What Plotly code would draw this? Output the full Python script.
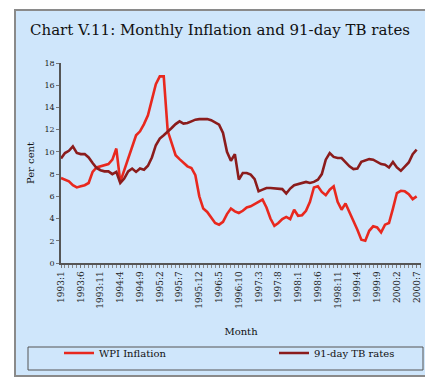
import plotly.graph_objects as go

# Monthly categories 1993:1 .. 2000:7
years = list(range(1993, 2001))
months = [f"{y}:{m}" for y in years for m in range(1, 13)][:91]

wpi_inflation = [7.65, 7.5, 7.35, 7.0, 6.8, 6.9, 7.0, 7.2, 8.2, 8.6,
                 8.7, 8.8, 8.9, 9.3, 10.3, 7.3, 8.3, 9.3, 10.4, 11.5,
                 11.85, 12.5, 13.3, 14.6, 16.1, 16.8, 16.8, 11.9, 10.8, 9.7,
                 9.35, 9.0, 8.7, 8.55, 7.9, 6.0, 4.9, 4.6, 4.1, 3.6,
                 3.45, 3.7, 4.4, 4.9, 4.65, 4.5, 4.7, 5.0, 5.1, 5.3,
                 5.55, 5.7, 5.0, 4.0, 3.35, 3.6, 3.95, 4.15, 3.95, 4.8,
                 4.25, 4.3, 4.7, 5.5, 6.8, 6.9, 6.4, 6.1, 6.6, 6.9,
                 5.5, 4.8, 5.35, 4.6, 3.7, 3.0, 2.1, 2.0, 2.9, 3.3,
                 3.2, 2.75, 3.45, 3.6, 4.9, 6.3, 6.5, 6.45, 6.2, 5.75,
                 6.0]

tb_rate = [9.4, 9.9, 10.1, 10.5, 9.9, 9.8, 9.8, 9.5, 9.0, 8.55,
           8.35, 8.25, 8.25, 8.0, 8.2, 7.2, 7.6, 8.25, 8.5, 8.2,
           8.5, 8.4, 8.75, 9.5, 10.6, 11.2, 11.5, 11.8, 12.15, 12.5,
           12.75, 12.55, 12.6, 12.75, 12.9, 12.95, 12.95, 12.95, 12.85, 12.65,
           12.45, 11.7, 10.0, 9.2, 9.8, 7.5, 8.1, 8.1, 7.95, 7.55,
           6.45, 6.6, 6.75, 6.75, 6.7, 6.7, 6.65, 6.25, 6.7, 7.0,
           7.1, 7.2, 7.3, 7.2, 7.3, 7.5, 8.0, 9.3, 9.9, 9.55,
           9.45, 9.45, 9.1, 8.7, 8.45, 8.5, 9.1, 9.2, 9.35, 9.3,
           9.1, 8.9, 8.85, 8.6, 9.1, 8.6, 8.3, 8.7, 9.05, 9.8,
           10.2]

y_ticks = [0, 2, 4, 6, 8, 10, 12, 14, 16, 18]
x_tick_labels = months[::5]

W, H = 433, 378
L, R, T, B = 53, 20, 55, 123
pw, ph = W - L - R, H - T - B

def px_x(v):
    return (v - L) / pw

def px_y(v):
    return (H - B - v) / ph

fig = go.Figure()
fig.add_trace(go.Scatter(x=months, y=wpi_inflation, mode="lines", name="WPI Inflation",
                         line=dict(color="#e8281e", width=2.6), legend="legend"))
fig.add_trace(go.Scatter(x=months, y=tb_rate, mode="lines", name="91-day TB rates",
                         line=dict(color="#8b1c1c", width=2.6), legend="legend2"))

font_family = "DejaVu Serif"
legend_common = dict(orientation="h", xanchor="left", y=px_y(345), yanchor="middle",
                     bgcolor="rgba(0,0,0,0)", borderwidth=0,
                     font=dict(family=font_family, size=10, color="#111111"))

fig.update_layout(
    width=W, height=H,
    margin=dict(l=L, r=R, t=T, b=B, autoexpand=False),
    paper_bgcolor="white",
    plot_bgcolor="rgba(0,0,0,0)",
    font=dict(family=font_family, color="#222222", size=10),
    title=dict(text="Chart V.11: Monthly Inflation and 91-day TB rates",
               x=px_x(212), xref="paper", xanchor="center", y=1 - 22 / H, yanchor="middle",
               font=dict(family=font_family, size=15, color="#111111")),
    showlegend=True,
    legend=dict(x=px_x(51), **legend_common),
    legend2=dict(x=px_x(266), **legend_common),
    xaxis=dict(type="category", range=[0, 91.1], showgrid=False, zeroline=False,
               showline=True, linecolor="#555555", linewidth=1.5,
               ticks="outside", ticklen=3, tickcolor="#777777",
               tickmode="array", tickvals=x_tick_labels, ticktext=x_tick_labels,
               tickangle=-90, tickfont=dict(family=font_family, size=9, color="#222222"),
               minor=dict(ticks="outside", ticklen=3, tickcolor="#888888", dtick=1, showgrid=False),
               title=dict(text="Month", standoff=20,
                          font=dict(family=font_family, size=10, color="#111111"))),
    yaxis=dict(range=[0, 18], showgrid=False, zeroline=False,
               showline=True, linecolor="#555555", linewidth=1.5,
               ticks="outside", ticklen=3, tickcolor="#777777",
               tickvals=y_ticks, tickfont=dict(family=font_family, size=8, color="#222222"),
               title=dict(text="Per cent", standoff=8,
                          font=dict(family=font_family, size=10, color="#111111"))),
)

# outer light-blue chart frame
fig.add_shape(type="rect", xref="paper", yref="paper", layer="below",
              x0=px_x(7), x1=px_x(427), y0=px_y(368), y1=px_y(2),
              fillcolor="#cfe6fb", line=dict(color="#8a8a8a", width=2))
# legend box
fig.add_shape(type="rect", xref="paper", yref="paper", layer="below",
              x0=px_x(20), x1=px_x(415), y0=px_y(362), y1=px_y(339),
              fillcolor="rgba(0,0,0,0)", line=dict(color="#555555", width=1))

fig.write_html("out.html")
